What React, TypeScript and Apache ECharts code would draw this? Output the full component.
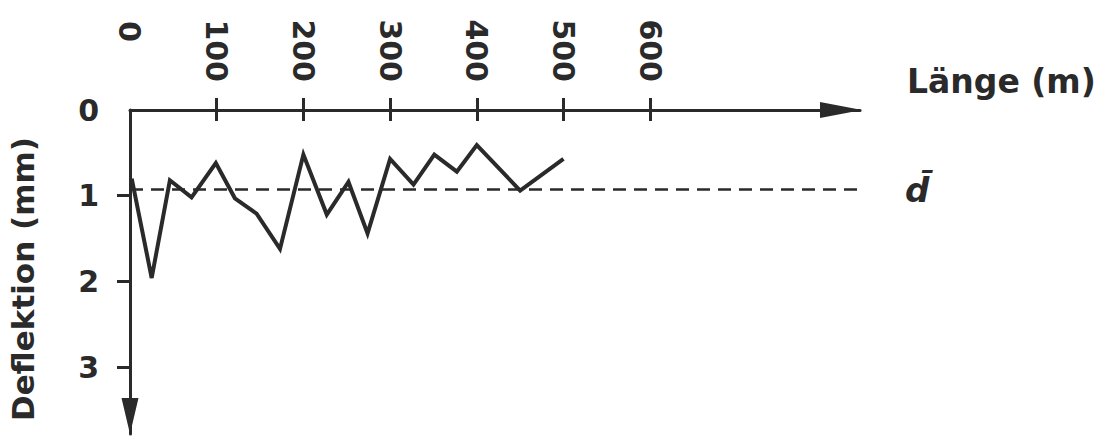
import React, { useEffect, useRef } from "react";
import * as echarts from "echarts";

const lengthM = [2, 25, 46, 71, 99, 121, 146, 173, 200, 227, 252, 274, 300, 327, 351, 377, 400, 450, 500];
const deflection = [0.8, 1.96, 0.82, 1.02, 0.62, 1.03, 1.21, 1.62, 0.52, 1.22, 0.84, 1.44, 0.57, 0.87, 0.52, 0.72, 0.41, 0.94, 0.57];
const meanDeflection = 0.93;
const xTickValues = [100, 200, 300, 400, 500, 600];
const xLabelValues = [100, 200, 300, 400, 500, 600];
const xOriginLabel = [0];
const yTickValues = [1, 2, 3];
const yLabelValues = [0, 1, 2, 3];

const INK = "#2a2a2a";
const FONT = "DejaVu Sans";

export default function App() {
  const ref = useRef<HTMLDivElement>(null);
  useEffect(() => {
    if (!ref.current) return;
    const chart = echarts.init(ref.current, null, { renderer: "svg" });
    const xMin = 0, xMax = 842, yMin = 0, yMax = 3.78;
    const labelStyle = { color: INK, fontFamily: FONT, fontWeight: "bold", fontSize: 30 };
    chart.setOption({
      animation: false,
      backgroundColor: "#ffffff",
      grid: { left: 130, top: 110, right: 249, bottom: 2, containLabel: false, outerBoundsMode: "none" },
      xAxis: [
        {
          type: "value",
          position: "top",
          min: xMin,
          max: xMax,
          splitLine: { show: false },
          axisLine: {
            show: true,
            onZero: false,
            symbol: ["none", "triangle"],
            symbolSize: [16, 42],
            symbolOffset: [0, -19],
            lineStyle: { color: INK, width: 3 },
          },
          axisTick: { show: true, length: 12, customValues: xTickValues, lineStyle: { color: INK, width: 3 } },
          axisLabel: { show: true, customValues: xLabelValues, rotate: 90, margin: 28, ...labelStyle },
          name: "Länge (m)",
          nameLocation: "end",
          nameGap: 47,
          nameTextStyle: {
            color: INK,
            fontFamily: FONT,
            fontWeight: "bold",
            fontSize: 33,
            align: "left",
            verticalAlign: "bottom",
            padding: [0, 0, 12, 0],
          },
        },
        {
          type: "value",
          position: "top",
          min: xMin,
          max: xMax,
          splitLine: { show: false },
          axisLine: { show: false },
          axisLabel: { show: false },
          axisTick: { show: true, inside: true, length: 11, customValues: xTickValues, lineStyle: { color: INK, width: 3 } },
        },
        {
          type: "value",
          position: "top",
          min: xMin,
          max: xMax,
          splitLine: { show: false },
          axisLine: { show: false },
          axisTick: { show: false },
          axisLabel: { show: true, customValues: xOriginLabel, rotate: 90, margin: 68, ...labelStyle },
        },
      ],
      yAxis: [
        {
          type: "value",
          inverse: true,
          min: yMin,
          max: yMax,
          splitLine: { show: false },
          axisLine: {
            show: true,
            onZero: false,
            symbol: ["triangle", "none"],
            symbolSize: [17, 36],
            symbolOffset: [18, 0],
            lineStyle: { color: INK, width: 3 },
          },
          axisTick: { show: true, length: 13, customValues: yTickValues, lineStyle: { color: INK, width: 3 } },
          axisLabel: { show: true, customValues: yLabelValues, margin: 31, ...labelStyle },
          name: "Deflektion (mm)",
          nameLocation: "middle",
          nameGap: 92,
          nameRotate: 90,
          nameTextStyle: {
            color: INK,
            fontFamily: FONT,
            fontWeight: "bold",
            fontSize: 31,
            padding: [0, 14, 0, 0],
          },
        },
        {
          type: "value",
          inverse: true,
          min: yMin,
          max: yMax,
          splitLine: { show: false },
          axisLine: { show: false },
          axisLabel: { show: false },
          axisTick: { show: true, inside: true, length: 11, customValues: yTickValues, lineStyle: { color: INK, width: 3 } },
        },
      ],
      series: [
        {
          type: "line",
          data: lengthM.map((x, i) => [x, deflection[i]]),
          showSymbol: false,
          symbol: "none",
          lineStyle: { color: INK, width: 4, join: "miter", miterLimit: 10 },
          markLine: {
            silent: true,
            symbol: ["none", "none"],
            data: [{ yAxis: meanDeflection }],
            lineStyle: { color: INK, width: 2.5, type: [13, 8] },
            label: {
              show: true,
              position: "end",
              distance: 45,
              formatter: "d\u0304",
              color: INK,
              fontFamily: FONT,
              fontSize: 34,
              fontWeight: "bold",
              fontStyle: "italic",
            },
          },
        },
      ],
    });
    return () => chart.dispose();
  }, []);
  return <div ref={ref} style={{ position: "fixed", left: 0, top: 0, width: 1109, height: 436 }} />;
}
